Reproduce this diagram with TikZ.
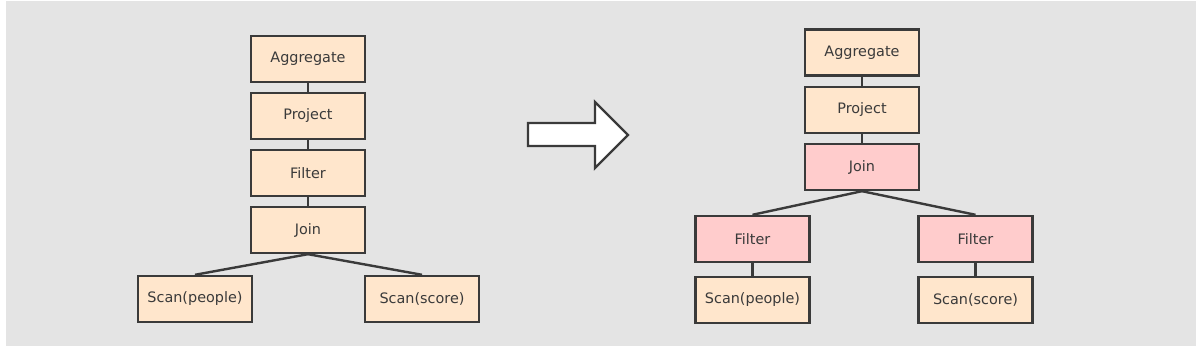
\documentclass[tikz,border=0pt]{standalone}
\usepackage{fontspec}
\setmainfont{DejaVu Sans}
\usetikzlibrary{positioning}
\definecolor{bg}{HTML}{E4E4E4}
\definecolor{peach}{HTML}{FFE6CC}
\definecolor{rose}{HTML}{FFCCCC}
\definecolor{ink}{HTML}{3A3A3A}
\begin{document}
\begin{tikzpicture}[x=.5pt,y=-.5pt,font=\fontsize{7.2}{8}\selectfont,
 op/.style={draw=ink,line width=1.2pt,fill=peach,text=ink,inner sep=0pt,minimum width=57pt,minimum height=23pt},
 pushed/.style={op,fill=rose},
 edge/.style={draw=ink,line width=1.2pt}]
\useasboundingbox (0,0) rectangle (1201,351);
\fill[bg] (6,1) rectangle (1196,346);
% original plan
\node[op] (agg1) at (308,59) {Aggregate};
\node[op] (proj1) at (308,116) {Project};
\node[op] (filt1) at (308,173) {Filter};
\node[op] (join1) at (308,230) {Join};
\node[op] (scp1) at (195,299) {Scan(people)};
\node[op] (scs1) at (422,299) {Scan(score)};
\foreach \a/\b in {agg1/proj1,proj1/filt1,filt1/join1} \draw[edge] (\a) -- (\b);
\foreach \n in {scp1,scs1} \draw[edge] (join1.south) -- (\n.north);
% rewrite
\draw[draw=ink,line width=1.2pt,fill=white,line join=miter] (528,123) -- (595,123) -- (595,102) -- (628,135) -- (595,168) -- (595,146) -- (528,146) -- cycle;
% pushed-down plan
\node[op] (agg2) at (862,52.5) {Aggregate};
\node[op] (proj2) at (862,110) {Project};
\node[pushed] (join2) at (862,167) {Join};
\node[pushed] (filtp) at (752.5,239) {Filter};
\node[pushed] (filts) at (975.5,239) {Filter};
\node[op] (scp2) at (752.5,300) {Scan(people)};
\node[op] (scs2) at (975.5,300) {Scan(score)};
\foreach \a/\b in {agg2/proj2,proj2/join2,filtp/scp2,filts/scs2} \draw[edge] (\a) -- (\b);
\foreach \n in {filtp,filts} \draw[edge] (join2.south) -- (\n.north);
\end{tikzpicture}
\end{document}
